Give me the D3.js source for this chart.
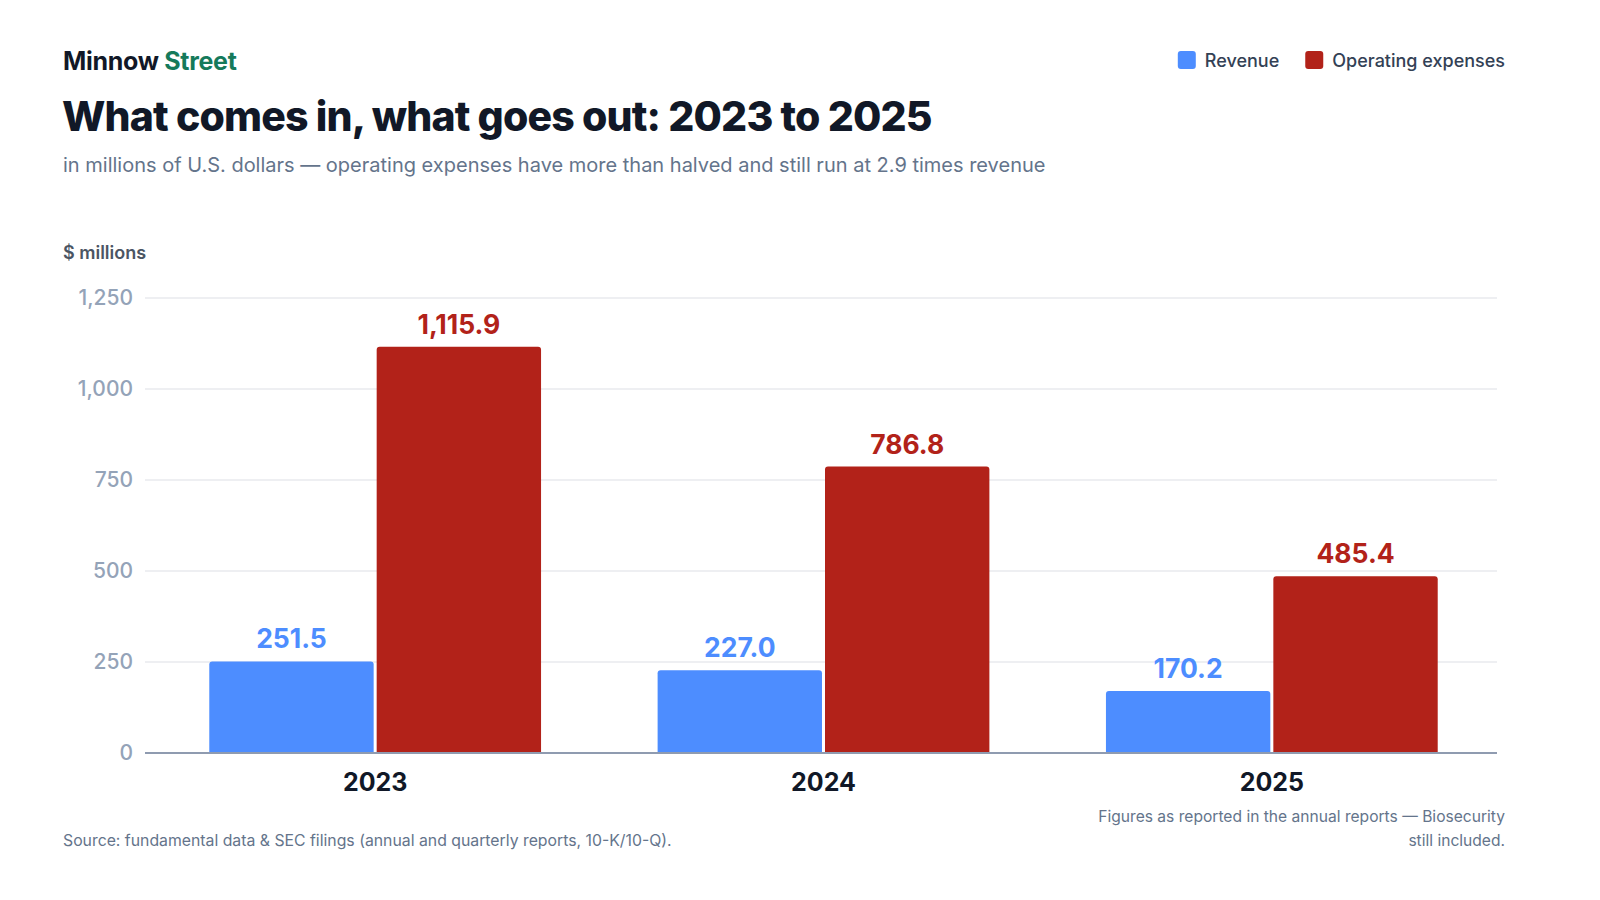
<!DOCTYPE html>
<html>
<head>
<meta charset="utf-8">
<script src="https://cdn.jsdelivr.net/npm/d3@7"></script>
<style>
  body { margin: 0; background: #fff; font-family: Inter, "Noto Sans", sans-serif; }
</style>
</head>
<body>
<div id="chart"></div>
<script>
// data
const years = ["2023", "2024", "2025"];
const seriesNames = ["Revenue", "Operating expenses"];
const revenue = [251.5, 227.0, 170.2];
const opex = [1115.9, 786.8, 485.4];
const yTicks = [0, 250, 500, 750, 1000, 1250];

const colors = {
    Revenue: '#4d8dff',
    'Operating expenses': '#b22219',
}

const W = 1600, H = 900;
const svg = d3.select("#chart").append("svg")
    .attr("width", W)
    .attr("height", H);

const rows = years.map((y, i) => ({year: y, Revenue: revenue[i], 'Operating expenses': opex[i]}));

// header
const brand = svg.append("text").attr("x", 63).attr("y", 70)
    .style("font-size", "25px").style("font-weight", 700).style("letter-spacing", "-0.3px");
brand.append("tspan").attr("fill", "#111827").text("Minnow ");
brand.append("tspan").attr("fill", "#157a5b").text("Street");

svg.append("text").attr("x", 62).attr("y", 131)
    .attr("fill", "#111827")
    .style("font-size", "41px").style("font-weight", 800).style("letter-spacing", "-0.85px")
    .text("What comes in, what goes out: 2023 to 2025");

svg.append("text").attr("x", 63).attr("y", 172)
    .attr("fill", "#64748b")
    .style("font-size", "20px")
    .text("in millions of U.S. dollars \u2014 operating expenses have more than halved and still run at 2.9 times revenue");

svg.append("text").attr("x", 63).attr("y", 259)
    .attr("fill", "#4b5563")
    .style("font-size", "18px").style("font-weight", 600)
    .text("$ millions");

// legend (right aligned)
const legend = svg.append("g");
let lx = 1505;
[...seriesNames].reverse().forEach(name => {
    const t = legend.append("text").attr("x", lx).attr("y", 67)
        .attr("text-anchor", "end")
        .attr("fill", "#334155")
        .style("font-size", "18px").style("font-weight", 500)
        .text(name);
    const tw = t.node().getComputedTextLength();
    legend.append("rect")
        .attr("x", lx - tw - 27).attr("y", 51)
        .attr("width", 18).attr("height", 18).attr("rx", 3)
        .attr("fill", colors[name]);
    lx = lx - tw - 27 - 26;
});

// scales
const plot = {left: 145, right: 1497, top: 298, bottom: 753};

const x0 = d3.scaleBand()
    .domain(years)
    .range([151, 1496])
    .paddingInner(0.26)
    .paddingOuter(0.13);

const x1 = d3.scaleBand()
    .domain(seriesNames)
    .range([0, x0.bandwidth()])
    .paddingInner(0.018);

const y = d3.scaleLinear()
    .domain([0, 1250])
    .range([plot.bottom, plot.top]);

// gridlines
svg.append("g")
    .selectAll("line")
    .data(yTicks.filter(d => d > 0))
    .enter().append("line")
    .attr("x1", plot.left).attr("x2", plot.right)
    .attr("y1", d => y(d)).attr("y2", d => y(d))
    .attr("stroke", "#e8eaee").attr("stroke-width", 1.5);

// y tick labels
svg.append("g")
    .selectAll("text")
    .data(yTicks)
    .enter().append("text")
    .attr("x", 133)
    .attr("y", d => y(d) + 7)
    .attr("text-anchor", "end")
    .attr("fill", "#94a3b8")
    .style("font-size", "21px").style("font-weight", 500)
    .text(d => d3.format(",")(d));

// bars with rounded tops
function topRounded(x, yTop, w, h, r) {
    r = Math.min(r, h, w / 2);
    return `M${x},${yTop + h}V${yTop + r}Q${x},${yTop} ${x + r},${yTop}` +
        `H${x + w - r}Q${x + w},${yTop} ${x + w},${yTop + r}V${yTop + h}Z`;
}

const groups = svg.append("g")
    .selectAll("g")
    .data(rows)
    .enter().append("g")
    .attr("transform", d => "translate(" + x0(d.year) + ",0)");

groups.selectAll("path")
    .data(d => seriesNames.map(k => ({key: k, value: d[k]})))
    .enter().append("path")
    .attr("fill", d => colors[d.key])
    .attr("d", d => topRounded(x1(d.key), y(d.value), x1.bandwidth(), y(0) - y(d.value), 3));

groups.selectAll("text.val")
    .data(d => seriesNames.map(k => ({key: k, value: d[k]})))
    .enter().append("text")
    .attr("class", "val")
    .attr("x", d => x1(d.key) + x1.bandwidth() / 2)
    .attr("y", d => y(d.value) - 13)
    .attr("text-anchor", "middle")
    .attr("fill", d => colors[d.key])
    .style("font-size", "26.5px").style("font-weight", 700)
    .text(d => d3.format(",.1f")(d.value));

// baseline
svg.append("line")
    .attr("x1", plot.left).attr("x2", plot.right)
    .attr("y1", y(0)).attr("y2", y(0))
    .attr("stroke", "#8f9bb0").attr("stroke-width", 2);

// year labels
svg.append("g")
    .selectAll("text")
    .data(years)
    .enter().append("text")
    .attr("x", d => x0(d) + x0.bandwidth() / 2)
    .attr("y", 791)
    .attr("text-anchor", "middle")
    .attr("fill", "#111827")
    .style("font-size", "25px").style("font-weight", 700)
    .text(d => d);

// footer
svg.append("text").attr("x", 63).attr("y", 846)
    .attr("fill", "#64748b")
    .style("font-size", "15.8px")
    .text("Source: fundamental data & SEC filings (annual and quarterly reports, 10-K/10-Q).");

const note = svg.append("text")
    .attr("text-anchor", "end")
    .attr("fill", "#64748b")
    .style("font-size", "15.6px");
note.append("tspan").attr("x", 1505).attr("y", 822)
    .text("Figures as reported in the annual reports \u2014 Biosecurity");
note.append("tspan").attr("x", 1505).attr("y", 846)
    .text("still included.");
</script>
</body>
</html>
